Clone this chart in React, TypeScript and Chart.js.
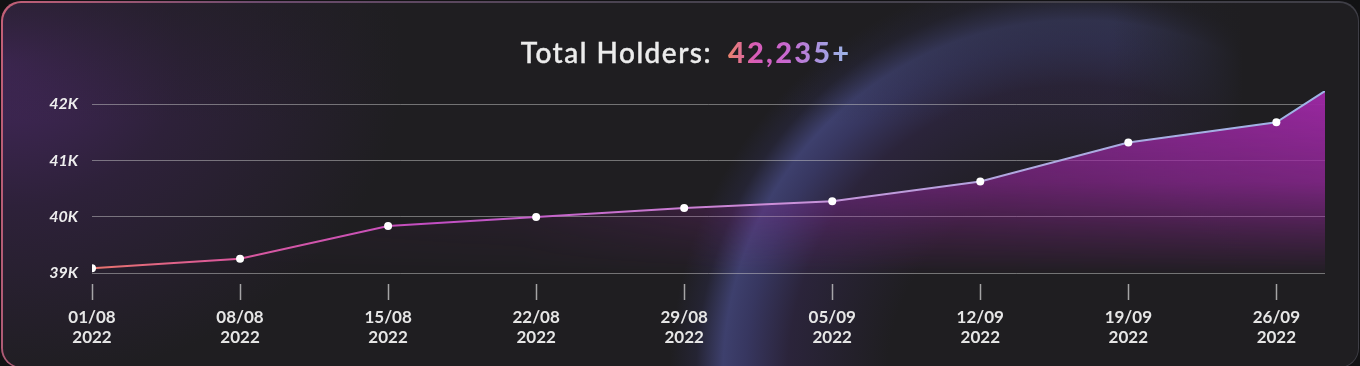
import React, { useEffect, useRef } from 'react';
import { Chart, registerables } from 'chart.js';

Chart.register(...registerables);

// ---- data ----
const weekLabels = ['01/08', '08/08', '15/08', '22/08', '29/08', '05/09', '12/09', '19/09', '26/09'];
const yearLabels = ['2022', '2022', '2022', '2022', '2022', '2022', '2022', '2022', '2022'];
const weekDays = [0, 7, 14, 21, 28, 35, 42, 49, 56];
const pointDays = [0, 7, 14, 21, 28, 35, 42, 49, 56, 58.3];
const holders = [39090, 39260, 39840, 40000, 40160, 40280, 40630, 41320, 41680, 42235];
const yTicks = [39000, 40000, 41000, 42000];
const yTickLabels = ['39K', '40K', '41K', '42K'];
const titleText = 'Total Holders:';
const totalText = '42,235+';

function makeFill(chart: any) {
  const a = chart.chartArea;
  const w = chart.width;
  const h = chart.height;
  const c = document.createElement('canvas');
  c.width = w;
  c.height = h;
  const g = c.getContext('2d')!;
  const hg = g.createLinearGradient(a.left, 0, a.right, 0);
  hg.addColorStop(0, 'rgba(150,38,158,0.04)');
  hg.addColorStop(0.35, 'rgba(150,38,158,0.16)');
  hg.addColorStop(0.65, 'rgba(152,38,160,0.7)');
  hg.addColorStop(1, 'rgba(155,40,162,1)');
  g.fillStyle = hg;
  g.fillRect(0, 0, w, h);
  g.globalCompositeOperation = 'destination-in';
  const vg = g.createLinearGradient(0, a.top, 0, a.bottom);
  vg.addColorStop(0, 'rgba(0,0,0,1)');
  vg.addColorStop(0.5, 'rgba(0,0,0,0.72)');
  vg.addColorStop(0.8, 'rgba(0,0,0,0.28)');
  vg.addColorStop(1, 'rgba(0,0,0,0.02)');
  g.fillStyle = vg;
  g.fillRect(0, 0, w, h);
  return chart.ctx.createPattern(c, 'no-repeat');
}

function makeStroke(chart: any) {
  const a = chart.chartArea;
  const g = chart.ctx.createLinearGradient(a.left, 0, a.right, 0);
  g.addColorStop(0, '#e8746c');
  g.addColorStop(0.1, '#dc5a98');
  g.addColorStop(0.28, '#c24ec4');
  g.addColorStop(0.55, '#cc8ed8');
  g.addColorStop(0.75, '#b0a8e0');
  g.addColorStop(1, '#9eb4e6');
  return g;
}

export default function App() {
  const ref = useRef<HTMLCanvasElement>(null);

  useEffect(() => {
    const canvas = ref.current!;
    const chart = new Chart(canvas, {
      type: 'line',
      data: {
        datasets: [
          {
            data: pointDays.map((d, i) => ({ x: d, y: holders[i] })),
            borderColor: (ctx: any) => (ctx.chart.chartArea ? makeStroke(ctx.chart) : '#c070d0'),
            backgroundColor: (ctx: any) => (ctx.chart.chartArea ? makeFill(ctx.chart) : 'transparent'),
            borderWidth: 2,
            fill: 'start',
            tension: 0,
            pointRadius: holders.map((_, i) => (i === holders.length - 1 ? 0 : 4)),
            pointHoverRadius: 4,
            pointBackgroundColor: '#ffffff',
            pointBorderColor: '#ffffff',
            pointBorderWidth: 0,
          } as any,
        ],
      },
      options: {
        animation: false,
        responsive: false,
        maintainAspectRatio: false,
        events: [],
        layout: { padding: { left: 0, right: 35, top: 91, bottom: 0 } },
        plugins: {
          legend: { display: false },
          tooltip: { enabled: false },
          title: { display: false },
        },
        scales: {
          x: {
            type: 'linear',
            min: 0,
            max: 58.3,
            border: { display: false },
            grid: {
              drawOnChartArea: false,
              drawTicks: true,
              tickLength: 27,
              tickColor: 'rgba(210,210,210,0.75)',
              tickWidth: 1.5,
              tickBorderDash: [0, 11, 16, 60],
            } as any,
            afterBuildTicks: (s: any) => {
              s.ticks = weekDays.map((v) => ({ value: v }));
            },
            ticks: {
              autoSkip: false,
              maxRotation: 0,
              padding: 8,
              color: '#e6e6e6',
              font: { family: 'Lato', size: 17, weight: 'bold', lineHeight: 1.13 },
              callback: (v: any) => {
                const i = weekDays.indexOf(Number(v));
                return i >= 0 ? [weekLabels[i], yearLabels[i]] : '';
              },
            },
            afterFit: (s: any) => {
              s.height = 366 - 273.3;
            },
          },
          y: {
            min: 39000,
            max: 42235,
            border: { display: false },
            grid: { color: 'rgba(200,200,200,0.5)', lineWidth: 1, drawTicks: false },
            afterBuildTicks: (s: any) => {
              s.ticks = yTicks.map((v) => ({ value: v }));
            },
            ticks: {
              padding: 14,
              color: '#eeeeee',
              font: { family: 'Lato', size: 16, style: 'italic', weight: 'bold' },
              callback: (v: any) => {
                const i = yTicks.indexOf(Number(v));
                return i >= 0 ? yTickLabels[i] : '';
              },
            },
            afterFit: (s: any) => {
              s.width = 92;
            },
          },
        },
      } as any,
    });
    return () => chart.destroy();
  }, []);

  const cardBg = [
    'linear-gradient(to right, rgba(31,30,33,0) 1110px, rgba(31,30,33,1) 1240px)',
    'linear-gradient(to bottom, rgba(31,30,33,0.5) 0px, rgba(31,30,33,0) 120px)',
    'radial-gradient(circle at 1075px 372px, rgba(50,40,90,0) 190px, rgba(62,46,100,0.38) 290px, rgba(70,70,135,0.62) 333px, rgba(78,82,150,0.65) 355px, rgba(55,55,110,0.24) 382px, rgba(31,30,33,0) 408px)',
    'radial-gradient(ellipse 400px 320px at 0px 60px, rgba(70,40,96,0.95) 0%, rgba(60,36,82,0.5) 45%, rgba(31,30,33,0) 100%)',
    '#1f1e21',
  ].join(',');

  return (
    <div style={{ position: 'fixed', left: 0, top: 0, width: 1360, height: 366, background: '#121214', overflow: 'hidden' }}>
      <div
        style={{
          position: 'absolute',
          left: 1,
          top: 1,
          width: 1358,
          height: 367,
          borderRadius: 20,
          padding: 1.5,
          boxSizing: 'border-box',
          background:
            'linear-gradient(100deg, rgba(205,100,125,0.95) 0%, rgba(140,95,140,0.75) 18%, rgba(95,88,105,0.7) 45%, rgba(80,80,90,0.7) 100%)',
        }}
      >
        <div style={{ width: '100%', height: '100%', borderRadius: 18.5, background: cardBg }} />
      </div>
      <canvas ref={ref} width={1360} height={366} style={{ position: 'absolute', left: 0, top: 0, width: 1360, height: 366 }} />
      <div
        style={{
          position: 'absolute',
          left: 6,
          top: 38,
          width: 1360,
          textAlign: 'center',
          fontFamily: 'Lato, sans-serif',
          fontSize: 28,
          lineHeight: '28px',
          color: '#ececec',
          whiteSpace: 'nowrap',
        }}
      >
        <span style={{ letterSpacing: 1.5, fontWeight: 500, WebkitTextStroke: '0.4px #ececec' }}>{titleText}</span>
        <span
          style={{
            marginLeft: 16,
            fontWeight: 900,
            fontSize: 29,
            letterSpacing: 2.2,
            background: 'linear-gradient(90deg, #e8826c 0%, #d85cb8 22%, #c868d0 48%, #a898e0 76%, #9cb8e8 100%)',
            WebkitBackgroundClip: 'text',
            backgroundClip: 'text',
            color: 'transparent',
          }}
        >
          {totalText}
        </span>
      </div>
    </div>
  );
}
